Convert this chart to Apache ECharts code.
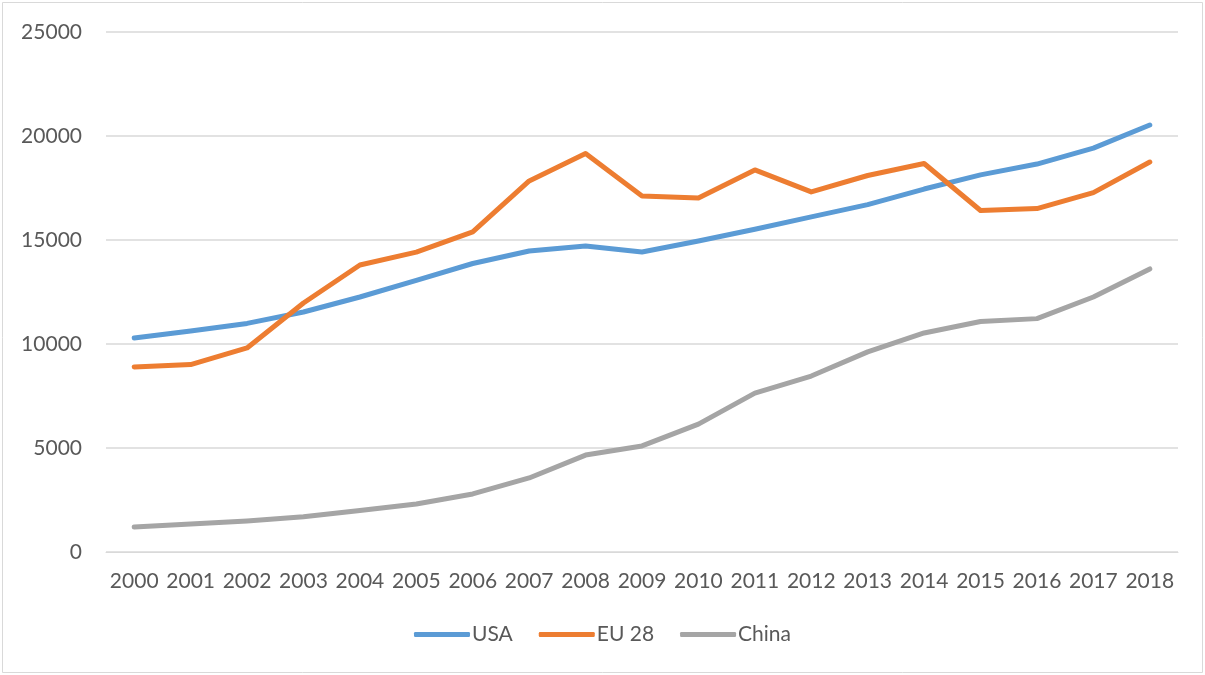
<!DOCTYPE html>
<html>
<head>
<meta charset="utf-8">
<script src="https://cdn.jsdelivr.net/npm/echarts@6/dist/echarts.min.js"></script>
<style>
html,body{margin:0;padding:0;background:#fff;}
#chart{width:1205px;height:675px;}
</style>
</head>
<body>
<div id="chart"></div>
<script>
const years = ['2000','2001','2002','2003','2004','2005','2006','2007','2008','2009','2010','2011','2012','2013','2014','2015','2016','2017','2018'];
const usa = [10290,10630,10990,11540,12260,13060,13870,14470,14710,14420,14950,15520,16110,16700,17450,18130,18650,19420,20530];
const eu28 = [8900,9010,9810,11970,13800,14420,15390,17840,19160,17120,17020,18370,17310,18100,18680,16420,16510,17280,18750];
const china = [1200,1350,1490,1690,1990,2310,2790,3560,4660,5100,6150,7640,8460,9620,10530,11080,11220,12260,13610];
const yTicks = [0,5000,10000,15000,20000,25000];

const chart = echarts.init(document.getElementById('chart'));
const font = 'Lato, Open Sans, sans-serif';
chart.setOption({
  animation: false,
  backgroundColor: '#fff',
  graphic: [{
    type: 'rect', shape: {x: 2.5, y: 2.5, width: 1200, height: 670},
    style: {fill: 'none', stroke: '#d9d9d9', lineWidth: 1}, silent: true
  }],
  grid: {left: 106, right: 27, top: 32, bottom: 123, containLabel: false},
  legend: {
    bottom: 25, left: 'center',
    icon: 'roundRect', itemWidth: 56, itemHeight: 5, itemGap: 26,
    textStyle: {color: '#595959', fontSize: 21, fontFamily: font, padding: [0,0,0,-3]},
    data: ['USA','EU 28','China']
  },
  xAxis: {
    type: 'category', data: years, boundaryGap: true,
    axisLine: {show: true, lineStyle: {color: '#d9d9d9', width: 1}},
    axisTick: {show: false},
    axisLabel: {color: '#595959', fontSize: 21, fontFamily: font, margin: 19, interval: 0}
  },
  yAxis: {
    type: 'value', min: yTicks[0], max: yTicks[yTicks.length-1], interval: 5000,
    axisLine: {show: false}, axisTick: {show: false},
    axisLabel: {color: '#595959', fontSize: 21, fontFamily: font, margin: 24,
      formatter: function (v) { return String(v); }},
    splitLine: {lineStyle: {color: '#d9d9d9', width: 1.5}}
  },
  series: [
    {name: 'USA', type: 'line', data: usa, symbol: 'none', color: '#5b9bd5',
     lineStyle: {width: 5, color: '#5b9bd5', cap: 'round', join: 'round'}},
    {name: 'EU 28', type: 'line', data: eu28, symbol: 'none', color: '#ed7d31',
     lineStyle: {width: 5, color: '#ed7d31', cap: 'round', join: 'round'}},
    {name: 'China', type: 'line', data: china, symbol: 'none', color: '#a5a5a5',
     lineStyle: {width: 5, color: '#a5a5a5', cap: 'round', join: 'round'}}
  ]
});
</script>
</body>
</html>
